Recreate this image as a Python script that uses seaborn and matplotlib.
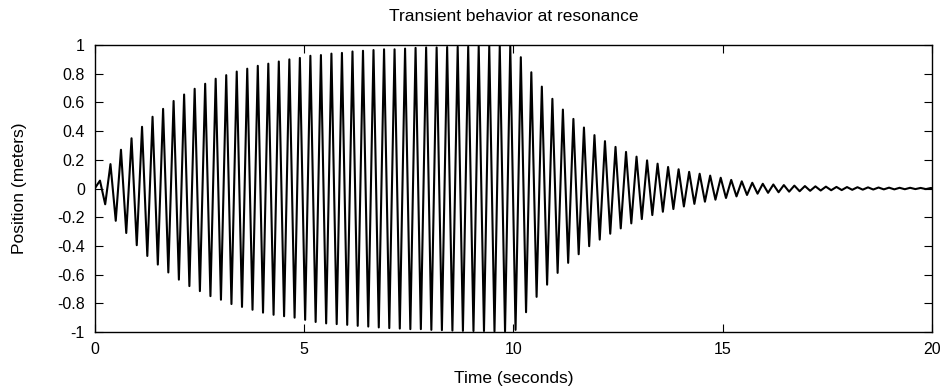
import matplotlib
matplotlib.use("Agg")
import matplotlib.pyplot as plt
import seaborn as sns
import pandas as pd
from matplotlib.ticker import FuncFormatter

# ---- data: extrema of the oscillation ----
time_s = [0.0,
    0.126, 0.251, 0.377, 0.503, 0.628, 0.754, 0.880, 1.005, 1.131, 1.257,
    1.382, 1.508, 1.634, 1.759, 1.885, 2.011, 2.136, 2.262, 2.388, 2.513,
    2.639, 2.765, 2.890, 3.016, 3.142, 3.267, 3.393, 3.519, 3.644, 3.770,
    3.896, 4.021, 4.147, 4.273, 4.398, 4.524, 4.650, 4.775, 4.901, 5.027,
    5.152, 5.278, 5.404, 5.529, 5.655, 5.781, 5.906, 6.032, 6.158, 6.283,
    6.409, 6.535, 6.660, 6.786, 6.912, 7.037, 7.163, 7.288, 7.414, 7.540,
    7.665, 7.791, 7.917, 8.042, 8.168, 8.294, 8.419, 8.545, 8.671, 8.796,
    8.922, 9.048, 9.173, 9.299, 9.425, 9.550, 9.676, 9.802, 9.927, 10.053,
    10.179, 10.304, 10.430, 10.556, 10.681, 10.807, 10.933, 11.058, 11.184, 11.310,
    11.435, 11.561, 11.687, 11.812, 11.938, 12.064, 12.189, 12.315, 12.441, 12.566,
    12.692, 12.818, 12.943, 13.069, 13.195, 13.320, 13.446, 13.572, 13.697, 13.823,
    13.948, 14.074, 14.200, 14.325, 14.451, 14.577, 14.702, 14.828, 14.954, 15.080,
    15.205, 15.331, 15.457, 15.582, 15.708, 15.834, 15.959, 16.085, 16.211, 16.336,
    16.462, 16.588, 16.713, 16.839, 16.965, 17.090, 17.216, 17.342, 17.467, 17.593,
    17.719, 17.844, 17.970, 18.096, 18.221, 18.347, 18.473, 18.598, 18.724, 18.850,
    18.975, 19.101, 19.227, 19.352, 19.478, 19.604, 19.729, 19.855, 19.981, 20.0]

position_m = [0.0,
    0.055, -0.110, 0.170, -0.225, 0.270, -0.310, 0.350, -0.395, 0.430, -0.470,
    0.500, -0.530, 0.555, -0.585, 0.610, -0.635, 0.655, -0.680, 0.695, -0.715,
    0.730, -0.750, 0.765, -0.775, 0.790, -0.805, 0.815, -0.825, 0.835, -0.845,
    0.855, -0.865, 0.870, -0.880, 0.885, -0.890, 0.900, -0.900, 0.910, -0.915,
    0.925, -0.930, 0.930, -0.940, 0.940, -0.945, 0.945, -0.950, 0.955, -0.957,
    0.960, -0.962, 0.965, -0.968, 0.970, -0.973, 0.970, -0.976, 0.975, -0.980,
    0.980, -0.980, 0.983, -0.985, 0.983, -0.987, 0.986, -0.990, 0.988, -0.992,
    0.988, -0.993, 0.990, -0.993, 0.992, -0.995, 0.993, -0.995, 0.993, -0.985,
    0.915, -0.862, 0.810, -0.755, 0.710, -0.670, 0.625, -0.588, 0.550, -0.518,
    0.485, -0.458, 0.425, -0.402, 0.372, -0.356, 0.330, -0.315, 0.290, -0.278,
    0.255, -0.243, 0.222, -0.213, 0.196, -0.185, 0.173, -0.162, 0.150, -0.143,
    0.134, -0.125, 0.116, -0.107, 0.103, -0.092, 0.090, -0.078, 0.075, -0.066,
    0.060, -0.055, 0.050, -0.045, 0.040, -0.036, 0.033, -0.030, 0.028, -0.026,
    0.024, -0.022, 0.020, -0.019, 0.017, -0.016, 0.015, -0.014, 0.013, -0.012,
    0.011, -0.011, 0.010, -0.009, 0.009, -0.008, 0.008, -0.007, 0.007, -0.006,
    0.006, -0.006, 0.005, -0.005, 0.005, -0.004, 0.004, -0.004, 0.004, 0.0]

x_ticks = [0, 5, 10, 15, 20]
y_ticks = [-1, -0.8, -0.6, -0.4, -0.2, 0, 0.2, 0.4, 0.6, 0.8, 1]

title = "Transient behavior at resonance"
xlabel = "Time (seconds)"
ylabel = "Position (meters)"

df = pd.DataFrame({"t": time_s, "x": position_m})

sns.set_style("ticks")
plt.rcParams["font.family"] = ["Liberation Sans", "DejaVu Sans"]
plt.rcParams["axes.unicode_minus"] = False
plt.rcParams["text.color"] = "black"
plt.rcParams["axes.labelcolor"] = "black"

fig = plt.figure(figsize=(9.45, 3.88), dpi=100)
ax = fig.add_axes([0.1002, 0.1443, 0.886, 0.7397])

sns.lineplot(data=df, x="t", y="x", ax=ax, color="black", linewidth=1.5,
             estimator=None, sort=False)

ax.set_xlim(0, 20)
ax.set_ylim(-1, 1)
ax.set_xticks(x_ticks)
ax.set_yticks(y_ticks)
ax.yaxis.set_major_formatter(FuncFormatter(lambda v, p: "%g" % round(v, 1)))
ax.xaxis.set_major_formatter(FuncFormatter(lambda v, p: "%g" % v))

ax.tick_params(direction="in", length=6, width=0.8, top=True, right=True,
               labelsize=11.5, colors="black", labelcolor="black")
ax.tick_params(axis="y", pad=7)
ax.tick_params(axis="x", pad=7.5)
for s in ax.spines.values():
    s.set_visible(True)
    s.set_color("black")
    s.set_linewidth(1.0)

ax.set_title(title, fontsize=12.5, pad=17, color="black")
ax.set_xlabel(xlabel, fontsize=12.5, labelpad=9.5, color="black")
ax.set_ylabel(ylabel, fontsize=12.5, labelpad=22, color="black")

fig.savefig("out.png", dpi=100, facecolor="white")
